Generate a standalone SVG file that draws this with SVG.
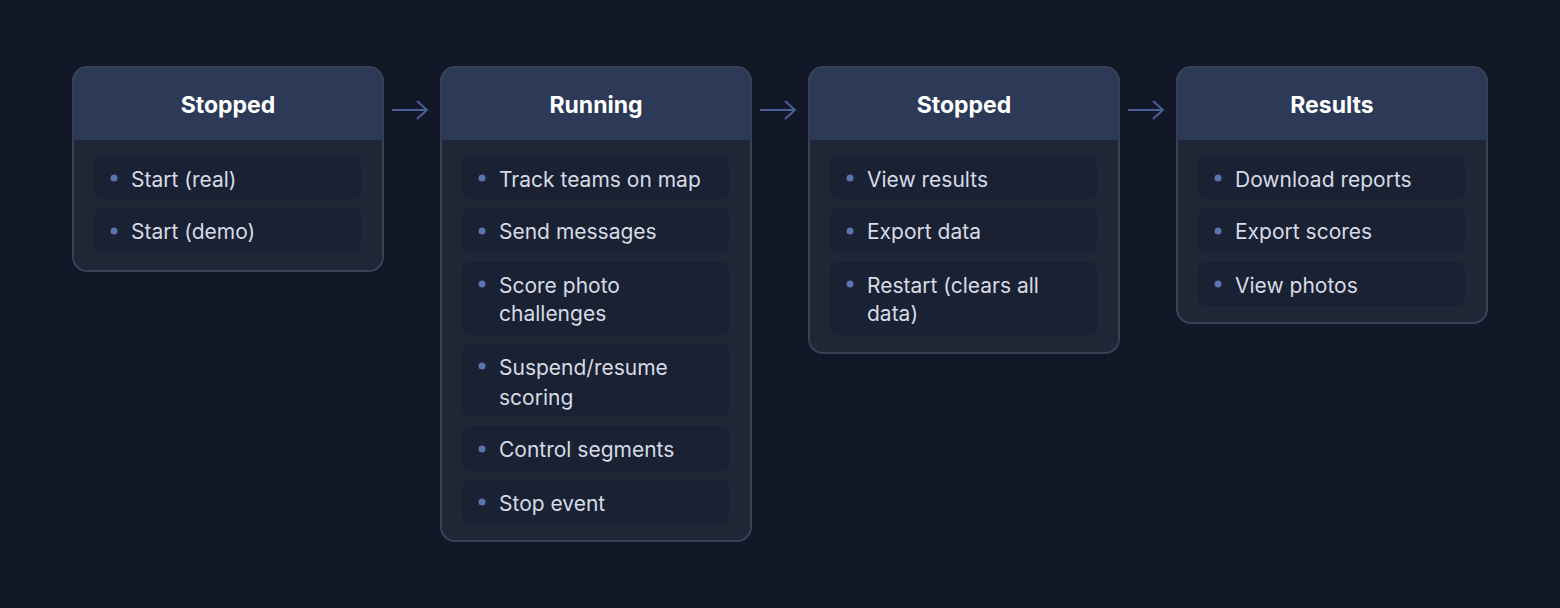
<svg xmlns="http://www.w3.org/2000/svg" width="1560" height="608" viewBox="0 0 1560 608">
<defs>
<style>
.card{fill:#1f2736;stroke:#3a4456;stroke-width:1.5}
.hdr{fill:#2c3a58}
.item{fill:#1a2133}
.bul{fill:#5a72b0}
.t{font-family:Inter,"Liberation Sans",sans-serif;font-size:21px;fill:#d6dbe6}
.h{font-family:Inter,"Liberation Sans",sans-serif;font-size:23px;font-weight:700;fill:#ffffff}
.arr{stroke:#4a5f95;stroke-width:2;fill:none}
</style>
<clipPath id="c1"><rect x="73" y="67" width="310" height="204" rx="14"/></clipPath>
<clipPath id="c2"><rect x="441" y="67" width="310" height="474" rx="14"/></clipPath>
<clipPath id="c3"><rect x="809" y="67" width="310" height="286" rx="14"/></clipPath>
<clipPath id="c4"><rect x="1177" y="67" width="310" height="256" rx="14"/></clipPath>
</defs>
<rect width="1560" height="608" fill="#121827"/>
<g id="connectors">
<path class="arr" d="M392 110H426M417 101L427 110L417 119"/>
<path class="arr" d="M760 110H794M785 101L795 110L785 119"/>
<path class="arr" d="M1128 110H1162M1153 101L1163 110L1153 119"/>
</g>
<g id="node1">
<rect class="card" x="73" y="67" width="310" height="204" rx="14"/>
<rect class="hdr" x="73" y="67" width="310" height="73" clip-path="url(#c1)"/>
<rect x="73" y="67" width="310" height="204" rx="14" fill="none" stroke="#3a4456" stroke-width="1.5"/>
<text class="h" x="228" y="113" text-anchor="middle">Stopped</text>
<rect class="item" x="94" y="156" width="267" height="43" rx="8"/><circle class="bul" cx="114" cy="178" r="3.5"/><text class="t" x="131" y="187">Start (real)</text>
<rect class="item" x="94" y="208" width="267" height="45" rx="8"/><circle class="bul" cx="114" cy="231" r="3.5"/><text class="t" x="131" y="239">Start (demo)</text>
</g>
<g id="node2">
<rect class="card" x="441" y="67" width="310" height="474" rx="14"/>
<rect class="hdr" x="441" y="67" width="310" height="73" clip-path="url(#c2)"/>
<rect x="441" y="67" width="310" height="474" rx="14" fill="none" stroke="#3a4456" stroke-width="1.5"/>
<text class="h" x="596" y="113" text-anchor="middle">Running</text>
<rect class="item" x="462" y="156" width="267" height="43" rx="8"/><circle class="bul" cx="482" cy="178" r="3.5"/><text class="t" x="499" y="187">Track teams on map</text>
<rect class="item" x="462" y="208" width="267" height="45" rx="8"/><circle class="bul" cx="482" cy="231" r="3.5"/><text class="t" x="499" y="239">Send messages</text>
<rect class="item" x="462" y="262" width="267" height="73" rx="8"/><circle class="bul" cx="482" cy="284" r="3.5"/><text class="t" x="499" y="293">Score photo</text><text class="t" x="499" y="321">challenges</text>
<rect class="item" x="462" y="344" width="267" height="73" rx="8"/><circle class="bul" cx="482" cy="366" r="3.5"/><text class="t" x="499" y="375">Suspend/resume</text><text class="t" x="499" y="405">scoring</text>
<rect class="item" x="462" y="426" width="267" height="45" rx="8"/><circle class="bul" cx="482" cy="449" r="3.5"/><text class="t" x="499" y="457">Control segments</text>
<rect class="item" x="462" y="480" width="267" height="43" rx="8"/><circle class="bul" cx="482" cy="502" r="3.5"/><text class="t" x="499" y="511">Stop event</text>
</g>
<g id="node3">
<rect class="card" x="809" y="67" width="310" height="286" rx="14"/>
<rect class="hdr" x="809" y="67" width="310" height="73" clip-path="url(#c3)"/>
<rect x="809" y="67" width="310" height="286" rx="14" fill="none" stroke="#3a4456" stroke-width="1.5"/>
<text class="h" x="964" y="113" text-anchor="middle">Stopped</text>
<rect class="item" x="830" y="156" width="267" height="43" rx="8"/><circle class="bul" cx="850" cy="178" r="3.5"/><text class="t" x="867" y="187">View results</text>
<rect class="item" x="830" y="208" width="267" height="45" rx="8"/><circle class="bul" cx="850" cy="231" r="3.5"/><text class="t" x="867" y="239">Export data</text>
<rect class="item" x="830" y="262" width="267" height="73" rx="8"/><circle class="bul" cx="850" cy="284" r="3.5"/><text class="t" x="867" y="293">Restart (clears all</text><text class="t" x="867" y="321">data)</text>
</g>
<g id="node4">
<rect class="card" x="1177" y="67" width="310" height="256" rx="14"/>
<rect class="hdr" x="1177" y="67" width="310" height="73" clip-path="url(#c4)"/>
<rect x="1177" y="67" width="310" height="256" rx="14" fill="none" stroke="#3a4456" stroke-width="1.5"/>
<text class="h" x="1332" y="113" text-anchor="middle">Results</text>
<rect class="item" x="1198" y="156" width="267" height="43" rx="8"/><circle class="bul" cx="1218" cy="178" r="3.5"/><text class="t" x="1235" y="187">Download reports</text>
<rect class="item" x="1198" y="208" width="267" height="45" rx="8"/><circle class="bul" cx="1218" cy="231" r="3.5"/><text class="t" x="1235" y="239">Export scores</text>
<rect class="item" x="1198" y="262" width="267" height="44" rx="8"/><circle class="bul" cx="1218" cy="284" r="3.5"/><text class="t" x="1235" y="293">View photos</text>
</g>
</svg>
